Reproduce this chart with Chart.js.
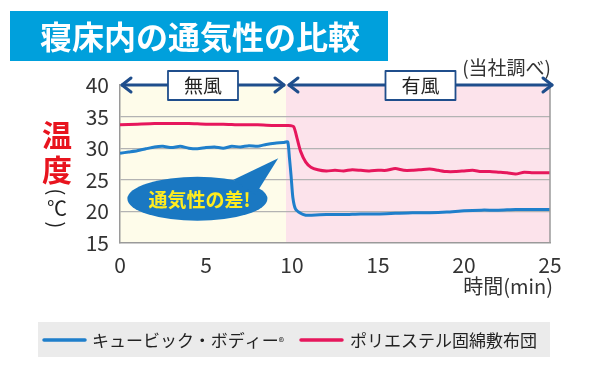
<!DOCTYPE html>
<html>
<head>
<meta charset="utf-8">
<script src="https://cdn.jsdelivr.net/npm/chart.js@4.4.1/dist/chart.umd.min.js"></script>
<style>
  html, body { margin: 0; padding: 0; background: #fff; }
  #wrap { width: 600px; height: 366px; position: relative; }
</style>
</head>
<body>
<div id="wrap"><canvas id="myChart" width="600" height="366"></canvas></div>
<script>
// data (time in min, temperature in C)
const blueTime = [0, 0.5, 1, 1.5, 2, 2.5, 3, 3.5, 4, 4.5, 5, 5.5, 6, 6.5, 7, 7.5, 8, 8.5, 9, 9.5, 9.75, 9.85, 9.95, 10.05, 10.2, 10.5, 10.8, 11, 12, 13, 14, 15, 16, 17, 18, 19, 20, 21, 22, 23, 24, 25];
const blueTemp = [29.2, 29.4, 29.6, 29.9, 30.2, 30.3, 30.1, 30.3, 30.0, 29.9, 30.1, 30.2, 30.0, 30.3, 30.2, 30.4, 30.3, 30.6, 30.8, 30.9, 31.0, 28.5, 25.5, 22.2, 20.4, 19.7, 19.4, 19.4, 19.5, 19.5, 19.6, 19.6, 19.7, 19.8, 19.8, 19.9, 20.1, 20.2, 20.2, 20.3, 20.3, 20.3];

const pinkTime = [0, 1, 2, 3, 4, 5, 6, 7, 8, 9, 9.8, 10.1, 10.3, 10.5, 10.8, 11.1, 11.5, 12, 12.5, 13, 13.5, 14, 14.5, 15, 15.5, 16, 16.5, 17, 17.5, 18, 18.5, 19, 19.5, 20, 20.5, 21, 21.5, 22, 22.5, 23, 23.5, 24, 24.5, 25];
const pinkTemp = [33.7, 33.8, 33.9, 33.9, 33.9, 33.8, 33.8, 33.7, 33.7, 33.6, 33.6, 33.4, 31.5, 29.5, 27.8, 27.0, 26.6, 26.4, 26.5, 26.4, 26.6, 26.5, 26.4, 26.5, 26.5, 26.8, 26.5, 26.5, 26.6, 26.7, 26.5, 26.3, 26.3, 26.4, 26.5, 26.3, 26.3, 26.2, 26.1, 25.9, 26.2, 26.1, 26.1, 26.1];

const seriesNames = ['キュービック・ボディー', 'ポリエステル固綿敷布団'];
const xTicks = [0, 5, 10, 15, 20, 25];
const yTicks = [15, 20, 25, 30, 35, 40];
const windChange = 9.65; // 無風 -> 有風
const phaseLabels = ['無風', '有風'];

const JP = '"Noto Sans CJK JP", "Noto Sans", sans-serif';
const blue = '#1f7fcb';
const pink = '#e6175c';
const navy = '#1f4e8c';

function pts(xs, ys) {
    return xs.map((x, i) => ({ x: x, y: ys[i] }));
}

function arrowHead(ctx, x, y, dir) {
    ctx.beginPath();
    ctx.moveTo(x - dir * 9, y - 7);
    ctx.lineTo(x, y);
    ctx.lineTo(x - dir * 9, y + 7);
    ctx.stroke();
}

const extras = {
    id: 'extras',
    beforeDraw(chart) {
        const { ctx, chartArea: a, scales } = chart;
        const xs = scales.x;
        const xm = xs.getPixelForValue(windChange);
        ctx.save();
        ctx.fillStyle = '#fff';
        ctx.fillRect(0, 0, chart.width, chart.height);
        ctx.fillStyle = '#fefcea';
        ctx.fillRect(a.left, a.top - 1, xm - a.left, a.bottom - a.top + 1);
        ctx.fillStyle = '#fce3eb';
        ctx.fillRect(xm, a.top - 1, a.right - xm, a.bottom - a.top + 1);

        // title
        ctx.fillStyle = '#00a0dc';
        ctx.fillRect(10, 11, 378, 50);
        ctx.fillStyle = '#fff';
        ctx.font = 'bold 32px ' + JP;
        ctx.textAlign = 'center';
        ctx.textBaseline = 'middle';
        ctx.fillText('寝床内の通気性の比較', 200, 37);

        ctx.fillStyle = '#333';
        ctx.font = '19px ' + JP;
        ctx.textAlign = 'right';
        ctx.fillText('(当社調べ)', 551, 68);
        ctx.restore();
    },
    afterDatasetsDraw(chart) {
        const { ctx, chartArea: a, scales } = chart;
        const xs = scales.x, ys = scales.y;
        const xm = xs.getPixelForValue(windChange);
        const yTop = ys.getPixelForValue(40);
        ctx.save();

        // right border
        ctx.strokeStyle = '#9a9a9a';
        ctx.lineWidth = 1.5;
        ctx.beginPath();
        ctx.moveTo(a.right, a.top);
        ctx.lineTo(a.right, a.bottom);
        ctx.stroke();

        // phase arrows
        ctx.strokeStyle = navy;
        ctx.lineWidth = 3;
        ctx.lineCap = 'round';
        ctx.lineJoin = 'round';
        const spans = [[a.left + 2, xm - 2], [xm + 3, a.right + 2]];
        spans.forEach((s, i) => {
            ctx.beginPath();
            ctx.moveTo(s[0], yTop);
            ctx.lineTo(s[1], yTop);
            ctx.stroke();
            arrowHead(ctx, s[0], yTop, -1);
            arrowHead(ctx, s[1], yTop, 1);
            const cx = (s[0] + s[1]) / 2;
            ctx.fillStyle = '#fff';
            ctx.fillRect(cx - 35, yTop - 14, 70, 29);
            ctx.lineWidth = 1.8;
            ctx.strokeRect(cx - 35, yTop - 14, 70, 29);
            ctx.lineWidth = 3;
            ctx.fillStyle = '#222';
            ctx.font = '19px ' + JP;
            ctx.textAlign = 'center';
            ctx.textBaseline = 'middle';
            ctx.fillText(phaseLabels[i], cx, yTop + 1);
        });

        // speech bubble
        const bx = xs.getPixelForValue(4.5), by = ys.getPixelForValue(22);
        const tipX = xs.getPixelForValue(9.2), tipY = ys.getPixelForValue(28.4);
        ctx.fillStyle = '#1a78c2';
        ctx.beginPath();
        ctx.ellipse(bx, by, 70, 22, 0, 0, Math.PI * 2);
        ctx.fill();
        ctx.beginPath();
        ctx.moveTo(bx + 36, by - 19);
        ctx.lineTo(tipX, tipY);
        ctx.lineTo(bx + 58, by - 4);
        ctx.closePath();
        ctx.fill();
        ctx.fillStyle = '#ffec1f';
        ctx.font = 'bold 19px ' + JP;
        ctx.textAlign = 'center';
        ctx.textBaseline = 'middle';
        ctx.fillText('通気性の差!', bx + 2, by + 1);

        // y axis title (vertical)
        ctx.fillStyle = '#e8141e';
        ctx.font = 'bold 30px ' + JP;
        ctx.fillText('温', 57, 135);
        ctx.fillText('度', 57, 170);
        ctx.fillStyle = '#222';
        ctx.font = '20px ' + JP;
        ctx.fillText('℃', 57, 208);
        [[192, 1], [225, -1]].forEach(p => {
            ctx.save();
            ctx.translate(57, p[0]);
            ctx.rotate(Math.PI / 2);
            ctx.fillText(p[1] > 0 ? '(' : ')', 0, 0);
            ctx.restore();
        });

        // x axis title
        ctx.fillStyle = '#333';
        ctx.font = '20px ' + JP;
        ctx.textAlign = 'right';
        ctx.fillText('時間(min)', 553, 286);

        // legend
        ctx.fillStyle = '#ebebeb';
        ctx.fillRect(38, 322, 512, 35);
        const items = [[44, blue, 92], [301, pink, 350]];
        items.forEach((it, i) => {
            ctx.strokeStyle = it[1];
            ctx.lineWidth = 3.5;
            ctx.beginPath();
            ctx.moveTo(it[0], 340);
            ctx.lineTo(it[0] + 41, 340);
            ctx.stroke();
            ctx.fillStyle = '#222';
            ctx.font = '17px ' + JP;
            ctx.textAlign = 'left';
            ctx.fillText(seriesNames[i], it[2], 341);
            if (i === 0) {
                const w = ctx.measureText(seriesNames[i]).width;
                ctx.font = '11px ' + JP;
                ctx.fillText('®', it[2] + w, 342);
            }
        });
        ctx.restore();
    }
};

const ctx = document.getElementById('myChart').getContext('2d');

new Chart(ctx, {
    type: 'line',
    data: {
        datasets: [{
            label: seriesNames[0],
            data: pts(blueTime, blueTemp),
            borderColor: blue,
            borderWidth: 3,
            pointRadius: 0,
            tension: 0.2
        }, {
            label: seriesNames[1],
            data: pts(pinkTime, pinkTemp),
            borderColor: pink,
            borderWidth: 3,
            pointRadius: 0,
            tension: 0.2
        }]
    },
    options: {
        responsive: false,
        animation: false,
        layout: { padding: { top: 85, right: 50, left: 0, bottom: 0 } },
        plugins: { legend: { display: false }, tooltip: { enabled: false } },
        scales: {
            x: {
                type: 'linear',
                min: 0, max: 25,
                afterBuildTicks: s => { s.ticks = xTicks.map(v => ({ value: v })); },
                afterFit: s => { s.height = 123; },
                grid: { display: false },
                border: { display: true, color: '#9a9a9a', width: 1.5 },
                ticks: { color: '#333', font: { size: 21, family: JP }, padding: 1, maxRotation: 0 }
            },
            y: {
                min: 15, max: 40,
                afterBuildTicks: s => { s.ticks = yTicks.map(v => ({ value: v })); },
                afterFit: s => { s.width = 120; },
                grid: {
                    drawTicks: false,
                    color: c => (c.tick && (c.tick.value === 40 || c.tick.value === 15)) ? 'rgba(0,0,0,0)' : '#b3b3b3',
                    lineWidth: 1.2
                },
                border: { display: true, color: '#9a9a9a', width: 1.5 },
                ticks: { color: '#333', font: { size: 21, family: JP }, padding: 11 }
            }
        }
    },
    plugins: [extras]
});
</script>
</body>
</html>
